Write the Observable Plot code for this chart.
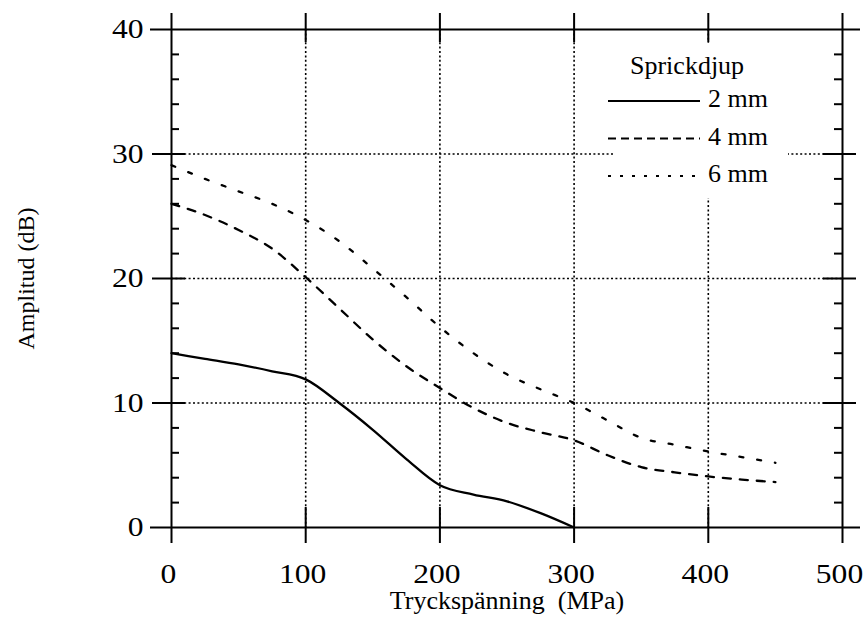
<!DOCTYPE html>
<html>
<head>
<meta charset="utf-8">
<script src="https://cdn.jsdelivr.net/npm/d3@7"></script>
<script src="https://cdn.jsdelivr.net/npm/@observablehq/plot@0.6"></script>
<style>
  html, body { margin: 0; padding: 0; background: #fff; }
  #wrap { position: relative; width: 864px; height: 621px; }
  #legend { position: absolute; left: 600px; top: 43px; }
  text { font-family: "Liberation Serif", "Times New Roman", serif; }
</style>
</head>
<body>
<div id="wrap"></div>
<script>
// ---- data ----
const stress2 = [0, 25, 50, 75, 100, 125, 150, 175, 200, 225, 250, 275, 300];
const amp2    = [14.0, 13.55, 13.1, 12.55, 11.9, 10.0, 7.85, 5.5, 3.4, 2.65, 2.1, 1.15, 0];

const stress4 = [0, 25, 50, 75, 100, 125, 150, 175, 200, 225, 250, 275, 300, 325, 350, 375, 400, 425, 450];
const amp4    = [26.0, 25.1, 23.9, 22.4, 20.1, 17.6, 15.1, 12.95, 11.2, 9.6, 8.4, 7.65, 7.0, 5.8, 4.85, 4.43, 4.1, 3.85, 3.65];

const stress6 = [0, 25, 50, 75, 100, 125, 150, 175, 200, 225, 250, 275, 300, 325, 350, 375, 400, 425, 450];
const amp6    = [29.1, 28.0, 27.0, 26.0, 24.7, 23.0, 20.8, 18.5, 16.1, 14.0, 12.3, 11.1, 10.0, 8.6, 7.2, 6.65, 6.1, 5.66, 5.2];

const seriesNames = ["2 mm", "4 mm", "6 mm"];
const xTicks = [0, 100, 200, 300, 400, 500];
const yTicks = [0, 10, 20, 30, 40];
const xInner = [100, 200, 300, 400];
const yInner = [10, 20, 30];
const yMinor = [2, 4, 6, 8, 12, 14, 16, 18, 22, 24, 26, 28, 32, 34, 36, 38];
const xTitle = "Tryckspänning  (MPa)";
const yTitle = "Amplitud (dB)";
const legendTitle = "Sprickdjup";

// ---- layout ----
const W = 864, H = 621, mL = 171, mR = 22, mT = 29, mB = 94;
const pxX = 500 / (W - mL - mR);   // data units per pixel (x)
const pxY = 40 / (H - mT - mB);    // data units per pixel (y)

const toRows = (xs, ys) => xs.map((x, i) => ({x, y: ys[i]}));
const s2 = toRows(stress2, amp2), s4 = toRows(stress4, amp4), s6 = toRows(stress6, amp6);

const dashes = {"2 mm": null, "4 mm": "8,9", "6 mm": "4,14"};
const dotted = {stroke: "#000", strokeWidth: 1.6, strokeDasharray: "2,2.4"};
const solid = {stroke: "#000", strokeWidth: 2};

const chart = Plot.plot({
  width: W, height: H,
  marginLeft: mL, marginRight: mR, marginTop: mT, marginBottom: mB,
  x: {domain: [0, 500]},
  y: {domain: [0, 40]},
  style: {fontFamily: "'Liberation Serif', 'Times New Roman', serif", fontSize: "27px", color: "#000", background: "#fff"},
  marks: [
    // dotted grid
    Plot.ruleX(xInner, {x: d => d, ...dotted}),
    Plot.ruleY(yInner, {y: d => d, ...dotted}),
    // data
    Plot.line(s2, {x: "x", y: "y", curve: "monotone-x", stroke: "#000", strokeWidth: 2.3}),
    Plot.line(s4, {x: "x", y: "y", curve: "monotone-x", stroke: "#000", strokeWidth: 2.3, strokeDasharray: dashes["4 mm"]}),
    Plot.line(s6, {x: "x", y: "y", curve: "monotone-x", stroke: "#000", strokeWidth: 2.3, strokeDasharray: dashes["6 mm"]}),
    // frame (extending past the corners)
    Plot.ruleY([0, 40], {y: d => d, x1: () => -21 * pxX, x2: () => 500 + 18 * pxX, ...solid}),
    Plot.ruleX([0, 500], {x: d => d, y1: () => -16 * pxY, y2: () => 40 + 16 * pxY, ...solid}),
    // major ticks crossing the frame
    Plot.ruleX(xInner, {x: d => d, y1: () => -16 * pxY, y2: () => 20 * pxY, ...solid}),
    Plot.ruleX(xInner, {x: d => d, y1: () => 40 - 13 * pxY, y2: () => 40 + 16 * pxY, ...solid}),
    Plot.ruleY(yInner, {y: d => d, x1: () => -19 * pxX, x2: () => 14 * pxX, ...solid}),
    Plot.ruleY(yInner, {y: d => d, x1: () => 500 - 19 * pxX, x2: () => 500 + 14 * pxX, ...solid}),
    // minor ticks (inside)
    Plot.ruleY(yMinor, {y: d => d, x1: () => 0, x2: () => 8 * pxX, ...solid}),
    Plot.ruleY(yMinor, {y: d => d, x1: () => 500 - 8 * pxX, x2: () => 500, ...solid}),
    // tick labels
    Plot.axisX({ticks: xTicks, tickSize: 0, tickPadding: 36, label: null, fontSize: 27, dx: -3}),
    Plot.axisY({ticks: yTicks, tickSize: 0, tickPadding: 28, label: null, fontSize: 27}),
    // titles
    Plot.text([xTitle], {text: d => d, frameAnchor: "bottom", dy: 73, lineAnchor: "middle", fontSize: 26}),
    Plot.text([yTitle], {text: d => d, frameAnchor: "left", dx: -145, rotate: -90, textAnchor: "middle", lineAnchor: "middle", fontSize: 24})
  ]
});

// widen the tick label digits like the reference's typeface
chart.querySelectorAll('g[aria-label="x-axis tick label"] text, g[aria-label="y-axis tick label"] text').forEach(t => {
  const tr = t.getAttribute("transform");
  if (tr) t.setAttribute("transform", tr + " scale(1.17,1)");
  else {
    const x = +(t.getAttribute("x") || 0), y = +(t.getAttribute("y") || 0);
    t.removeAttribute("x"); t.removeAttribute("y");
    t.setAttribute("transform", `translate(${x},${y}) scale(1.17,1)`);
  }
});

const wrap = document.getElementById("wrap");
wrap.appendChild(chart);

// ---- legend (white box over the grid) ----
const ns = "http://www.w3.org/2000/svg";
const lg = document.createElementNS(ns, "svg");
lg.setAttribute("id", "legend");
lg.setAttribute("width", 192);
lg.setAttribute("height", 157);
lg.style.overflow = "visible";
const mk = (tag, attrs, txt) => {
  const e = document.createElementNS(ns, tag);
  for (const k in attrs) e.setAttribute(k, attrs[k]);
  if (txt != null) e.textContent = txt;
  lg.appendChild(e);
  return e;
};
mk("rect", {x: 14, y: 0, width: 174, height: 155, fill: "#fff"});
mk("text", {x: 30, y: 31, "font-size": 26, fill: "#000"}, legendTitle);
const legendDash = {"2 mm": null, "4 mm": "8,5", "6 mm": "3,9"};
seriesNames.forEach((name, i) => {
  const ly = 58 + i * 37.5;
  const l = mk("line", {x1: 8, x2: 100, y1: ly, y2: ly, stroke: "#000", "stroke-width": 2});
  if (legendDash[name]) l.setAttribute("stroke-dasharray", legendDash[name]);
  mk("text", {x: 108, y: ly + 6, "font-size": 26, fill: "#000"}, name);
});
wrap.appendChild(lg);
</script>
</body>
</html>
